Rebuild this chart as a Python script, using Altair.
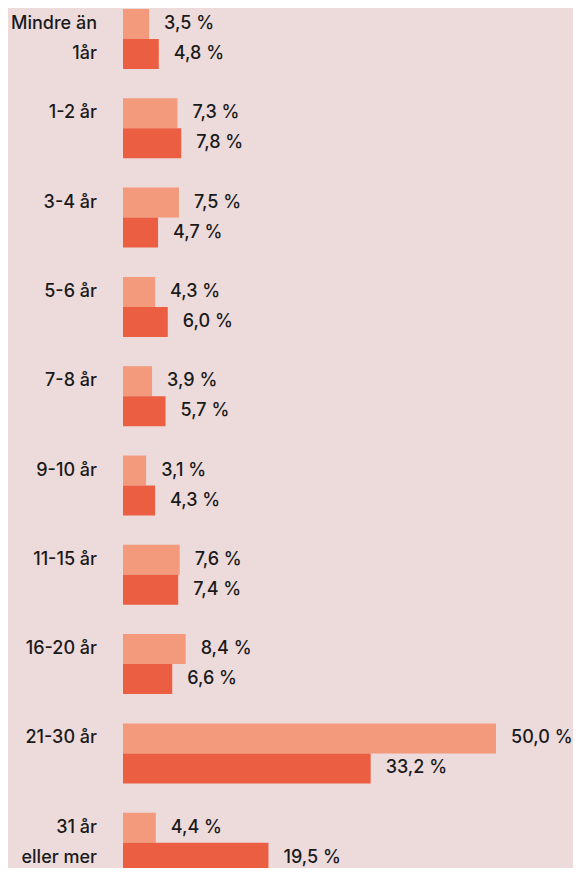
import altair as alt
import pandas as pd

categories = ["Mindre än 1år", "1-2 år", "3-4 år", "5-6 år", "7-8 år",
              "9-10 år", "11-15 år", "16-20 år", "21-30 år", "31 år eller mer"]
label_line1 = ["Mindre än", "1-2 år", "3-4 år", "5-6 år", "7-8 år",
               "9-10 år", "11-15 år", "16-20 år", "21-30 år", "31 år"]
label_line2 = ["1år", "", "", "", "", "", "", "", "", "eller mer"]
series_names = ["Serie 1", "Serie 2"]
values_light = [3.5, 7.3, 7.5, 4.3, 3.9, 3.1, 7.6, 8.4, 50.0, 4.4]
values_dark = [4.8, 7.8, 4.7, 6.0, 5.7, 4.3, 7.4, 6.6, 33.2, 19.5]
colors = ["#F29A7B", "#EB5E42"]
bg = "#EDDBDC"

rows = []
for i, c in enumerate(categories):
    for s, vals in zip(series_names, [values_light, values_dark]):
        v = vals[i]
        rows.append({"cat": c, "series": s, "value": v,
                     "label": f"{v:.1f}".replace(".", ",") + " %"})
df = pd.DataFrame(rows)

lab_rows = []
for i, c in enumerate(categories):
    lab_rows.append({"cat": c, "series": series_names[0], "text": label_line1[i]})
    if label_line2[i]:
        lab_rows.append({"cat": c, "series": series_names[1], "text": label_line2[i]})
ldf = pd.DataFrame(lab_rows)

step = 89.3
pad_inner = 1 - 60 / step
range_end = step * (len(categories) - pad_inner)

y = alt.Y("cat:N", sort=categories, axis=None,
          scale=alt.Scale(paddingInner=pad_inner, paddingOuter=0, range=[0, range_end]))
yo = alt.YOffset("series:N", sort=series_names,
                 scale=alt.Scale(paddingInner=0, paddingOuter=0))
x = alt.X("value:Q", axis=None, scale=alt.Scale(domain=[0, 50], nice=False, zero=True))

bars = alt.Chart(df).mark_bar().encode(
    x=x, y=y, yOffset=yo,
    color=alt.Color("series:N", sort=series_names, legend=None,
                    scale=alt.Scale(domain=series_names, range=colors)),
)

vals = alt.Chart(df).mark_text(
    align="left", baseline="middle", dx=15, font="Inter", fontSize=18,
    fontWeight=500, color="#1a1a1a"
).encode(x=x, y=y, yOffset=yo, text="label:N")

labels = alt.Chart(ldf).mark_text(
    align="right", baseline="middle", font="Inter", fontSize=18,
    fontWeight=500, color="#1a1a1a"
).encode(x=alt.value(-26), y=y, yOffset=yo, text="text:N")

chart = alt.layer(bars, vals, labels).properties(
    width=373, height=859,
    autosize=alt.AutoSizeParams(type="none"),
    padding={"left": 115, "top": 1, "right": 77, "bottom": 0},
    background=bg,
).configure_view(stroke=None)

chart.save("out.html", embed_options={"renderer": "svg", "actions": False})
